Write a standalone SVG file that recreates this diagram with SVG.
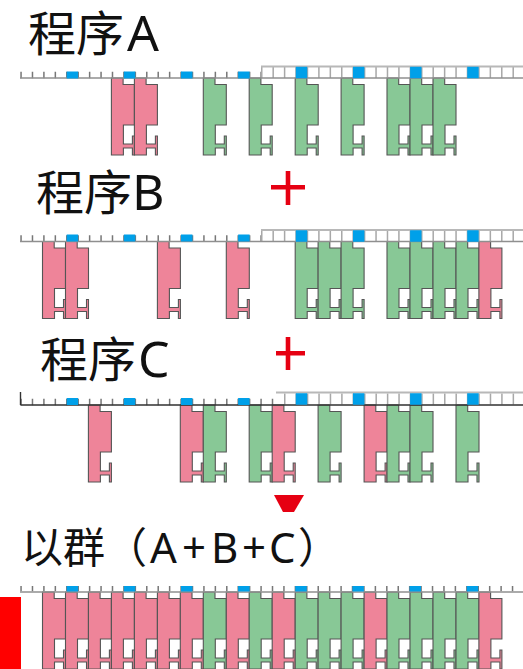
<svg xmlns="http://www.w3.org/2000/svg" width="523" height="669" viewBox="0 0 523 669">
<style>
.lb{font-family:"Noto Sans","Noto Sans CJK SC",sans-serif;fill:#111}
.r{fill:#ee8499}
.g{fill:#88c896}
.blk{stroke:#555;stroke-width:1.1;stroke-linejoin:miter}
.tk{stroke:#777;stroke-width:6.5;stroke-dasharray:1.5 9.93;fill:none}
.tkr{stroke:#a8a8a8;stroke-width:11;stroke-dasharray:1.5 9.93;fill:none}
.bs{stroke:#00a0e9;stroke-width:7;stroke-dasharray:11.43 45.72;fill:none}
.bt{stroke:#00a0e9;stroke-width:11.5;stroke-dasharray:11.43 45.72;fill:none}
.base{stroke:#8f8f8f;stroke-width:1.4}
.top{stroke:#b8b8b8;stroke-width:2}
.red{fill:#e60012}
</style>
<defs>
<filter id="soft" x="-2%" y="-2%" width="104%" height="104%"><feGaussianBlur stdDeviation="0.65"/></filter>
<path id="b" class="blk" d="M0 0H11.7V6.500H23V47H12V66H21V58H23V77H21V70H12V77H0Z"/>
</defs>

<g id="label-a"><text class="lb" x="28" y="51" font-size="48">程序<tspan font-size="50" dx="3">A</tspan></text></g>
<g id="label-b"><text class="lb" x="36" y="210" font-size="48">程序<tspan font-size="50">B</tspan></text></g>
<g id="label-c"><text class="lb" x="40" y="377" font-size="48">程序<tspan font-size="50" dx="2">C</tspan></text></g>
<g id="label-d"><text class="lb" x="21" y="563" font-size="42">以群（<tspan x="150">A</tspan><tspan x="182">+</tspan><tspan x="211">B</tspan><tspan x="242">+</tspan><tspan x="269">C</tspan><tspan x="298">）</tspan></text></g>

<g id="row-a" transform="translate(0,78)" filter="url(#soft)">
<use href="#b" x="111.4" class="r"/><use href="#b" x="134.4" class="r"/>
<use href="#b" x="203.3" class="g"/><use href="#b" x="249.2" class="g"/><use href="#b" x="295.2" class="g"/><use href="#b" x="341.1" class="g"/><use href="#b" x="387" class="g"/><use href="#b" x="410" class="g"/><use href="#b" x="433" class="g"/>
<path class="tk" d="M20.300 -3H261"/><path class="tkr" d="M261 -5.500H523"/>
<path class="base" d="M20 0H523"/><path class="top" d="M261 -11.500H523"/>
<path class="bs" d="M66.700 -3H261"/><path class="bt" d="M295.800 -5.500H523"/>
</g>

<g id="row-b" transform="translate(0,241.5)" filter="url(#soft)">
<use href="#b" x="42.5" class="r"/><use href="#b" x="65.5" class="r"/><use href="#b" x="157.4" class="r"/><use href="#b" x="226.3" class="r"/>
<use href="#b" x="295.2" class="g"/><use href="#b" x="318.1" class="g"/><use href="#b" x="341.1" class="g"/><use href="#b" x="387" class="g"/><use href="#b" x="410" class="g"/><use href="#b" x="433" class="g"/><use href="#b" x="456" class="g"/><use href="#b" x="478.9" class="r"/>
<path class="tk" d="M20.300 -3H261"/><path class="tkr" d="M261 -5.500H523"/>
<path class="base" d="M20 0H523"/><path class="top" d="M261 -11.500H523"/>
<path class="bs" d="M66.700 -3.500H261"/><path class="bt" d="M295.800 -5.500H523"/>
</g>

<g id="row-c" transform="translate(0,405)" filter="url(#soft)">
<use href="#b" x="88.4" class="r"/><use href="#b" x="180.3" class="r"/><use href="#b" x="203.3" class="g"/><use href="#b" x="249.2" class="g"/><use href="#b" x="272.2" class="r"/><use href="#b" x="318.1" class="g"/><use href="#b" x="364.1" class="r"/><use href="#b" x="387" class="g"/><use href="#b" x="410" class="g"/><use href="#b" x="456" class="g"/>
<path class="tk" d="M20.300 -3H276"/><path class="tkr" d="M284 -6H523"/>
<path d="M20.500 0H523M20.500 0V-13" stroke="#333" stroke-width="1.4" fill="none"/><path class="top" d="M276 -12.500H523"/>
<path class="bs" d="M66.700 -3.500H276"/><path class="bt" d="M295.800 -6H523"/>
</g>

<g id="row-d" transform="translate(0,592)" filter="url(#soft)">
<use href="#b" x="42.5" class="r"/><use href="#b" x="65.5" class="r"/><use href="#b" x="88.4" class="r"/><use href="#b" x="111.4" class="r"/><use href="#b" x="134.4" class="r"/><use href="#b" x="157.4" class="r"/><use href="#b" x="180.3" class="r"/><use href="#b" x="203.3" class="g"/><use href="#b" x="226.3" class="r"/><use href="#b" x="249.2" class="g"/><use href="#b" x="272.2" class="r"/><use href="#b" x="295.2" class="g"/><use href="#b" x="318.1" class="g"/><use href="#b" x="341.1" class="g"/><use href="#b" x="364.1" class="r"/><use href="#b" x="387" class="g"/><use href="#b" x="410" class="g"/><use href="#b" x="433" class="g"/><use href="#b" x="456" class="g"/><use href="#b" x="478.9" class="r"/>
<path class="tk" d="M20.300 -4H523"/>
<path class="base" d="M20 0H523"/>
<path class="bs" d="M66.700 -4H523" stroke-width="8"/>
</g>

<g id="plus-1"><path class="red" d="M271 185H285.700V171H290.300V185H305V189.500H290.300V205H285.700V189.500H271Z"/></g>
<g id="plus-2"><path class="red" d="M276 351H285.700V337H290.300V351H305V355.500H290.300V370H285.700V355.500H276Z"/></g>
<g id="down-arrow"><path class="red" d="M274 495H304L294 512H283Z"/></g>
<g id="red-bar"><rect x="0" y="597" width="21" height="72" fill="#ff0000"/></g>
</svg>
